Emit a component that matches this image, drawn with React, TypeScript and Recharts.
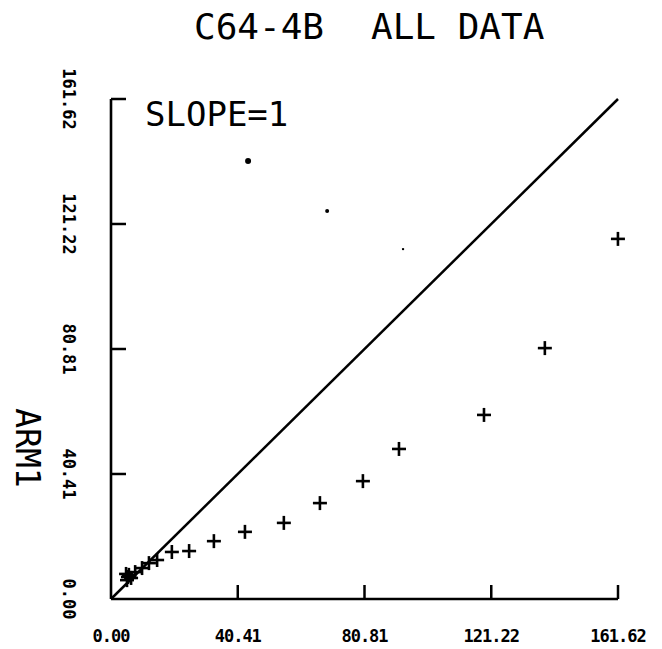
import { ScatterChart, Scatter, XAxis, YAxis, ReferenceLine } from 'recharts';

// same tick values on both axes
const axisTicks = [0, 40.41, 80.81, 121.22, 161.62];

// '+' measurements
const plusX = [161.6, 138.3, 118.9, 91.8, 80.3, 66.6, 55.1, 42.7, 32.8, 24.9, 19.4, 14.7, 12.1, 9.9, 7.7, 5.7, 5.4, 4.8, 6.4, 5.1];
const plusY = [116.4, 81.1, 59.5, 48.5, 38.1, 31.0, 24.6, 21.7, 18.7, 15.5, 15.2, 12.6, 11.6, 10.0, 8.7, 7.8, 7.1, 8.1, 6.8, 6.1];

// stray dots in the upper left
const dotX = [43.7, 68.9, 93.1];
const dotY = [141.6, 125.4, 113.1];

const plusData = plusX.map((x, i) => ({ x, y: plusY[i] }));
const dotData = dotX.map((x, i) => ({ x, y: dotY[i] }));

const dotRadius = [3, 2, 1.2];
const FONT = '"DejaVu Sans Mono", monospace';

const PlusShape = (props: any) => {
  const { cx, cy } = props;
  if (cx == null || cy == null) return null;
  return (
    <g stroke="#000" strokeWidth={2.6}>
      <line x1={cx - 7} y1={cy} x2={cx + 7} y2={cy} />
      <line x1={cx} y1={cy - 7} x2={cx} y2={cy + 7} />
    </g>
  );
};

const DotShape = (props: any) => {
  const { cx, cy, payload } = props;
  if (cx == null || cy == null) return null;
  const i = dotData.indexOf(payload);
  return <circle cx={cx} cy={cy} r={dotRadius[i] ?? 2} fill="#000" />;
};

const XTick = (props: any) => {
  const { x, y, payload } = props;
  return (
    <g>
      {payload.value > 0 && (
        <line x1={x} y1={y} x2={x} y2={y - 14} stroke="#000" strokeWidth={2.5} />
      )}
      <text
        x={x}
        y={y + 43}
        textAnchor="middle"
        fontFamily={FONT}
        fontWeight="bold"
        fontSize={17}
        letterSpacing={-1}
        fill="#000"
      >
        {payload.value.toFixed(2)}
      </text>
    </g>
  );
};

const YTick = (props: any) => {
  const { x, y, payload } = props;
  return (
    <g>
      {payload.value > 0 && (
        <line x1={x} y1={y} x2={x + 15} y2={y} stroke="#000" strokeWidth={2.5} />
      )}
      <text
        transform={`translate(${x - 42}, ${y}) rotate(90)`}
        textAnchor="middle"
        dominantBaseline="central"
        fontFamily={FONT}
        fontWeight="bold"
        fontSize={17}
        fill="#000"
      >
        {payload.value.toFixed(2)}
      </text>
    </g>
  );
};

export default function App() {
  return (
    <div style={{ position: 'absolute', left: 0, top: 0, width: 662, height: 649, background: '#fff', fontFamily: FONT }}>
      <div style={{ position: 'absolute', left: 194, top: 9, fontSize: 36, lineHeight: '36px', whiteSpace: 'pre' }}>C64-4B</div>
      <div style={{ position: 'absolute', left: 371, top: 9, fontSize: 36, lineHeight: '36px', whiteSpace: 'pre' }}>ALL DATA</div>
      <div style={{ position: 'absolute', left: 145, top: 97, fontSize: 34, lineHeight: '34px', whiteSpace: 'pre' }}>SLOPE=1</div>
      <div
        style={{
          position: 'absolute',
          left: 27,
          top: 448,
          fontSize: 33,
          lineHeight: '33px',
          whiteSpace: 'pre',
          transform: 'translate(-50%, -50%) rotate(90deg)',
        }}
      >
        ARM1
      </div>
      <ScatterChart width={662} height={649} margin={{ top: 99, right: 44, left: 51, bottom: 20 }}>
        <XAxis
          type="number"
          dataKey="x"
          domain={[0, 161.62]}
          ticks={axisTicks}
          interval={0}
          height={30}
          tickSize={0}
          tickMargin={0}
          tick={<XTick />}
          axisLine={{ stroke: '#000', strokeWidth: 2.6 }}
        />
        <YAxis
          type="number"
          dataKey="y"
          domain={[0, 161.62]}
          ticks={axisTicks}
          interval={0}
          width={60}
          tickSize={0}
          tickMargin={0}
          tick={<YTick />}
          axisLine={{ stroke: '#000', strokeWidth: 2.6 }}
        />
        <ReferenceLine
          segment={[{ x: 0, y: 0 }, { x: 161.62, y: 161.62 }]}
          stroke="#000"
          strokeWidth={2.5}
          ifOverflow="visible"
        />
        <Scatter data={plusData} shape={<PlusShape />} isAnimationActive={false} />
        <Scatter data={dotData} shape={<DotShape />} isAnimationActive={false} />
      </ScatterChart>
    </div>
  );
}
